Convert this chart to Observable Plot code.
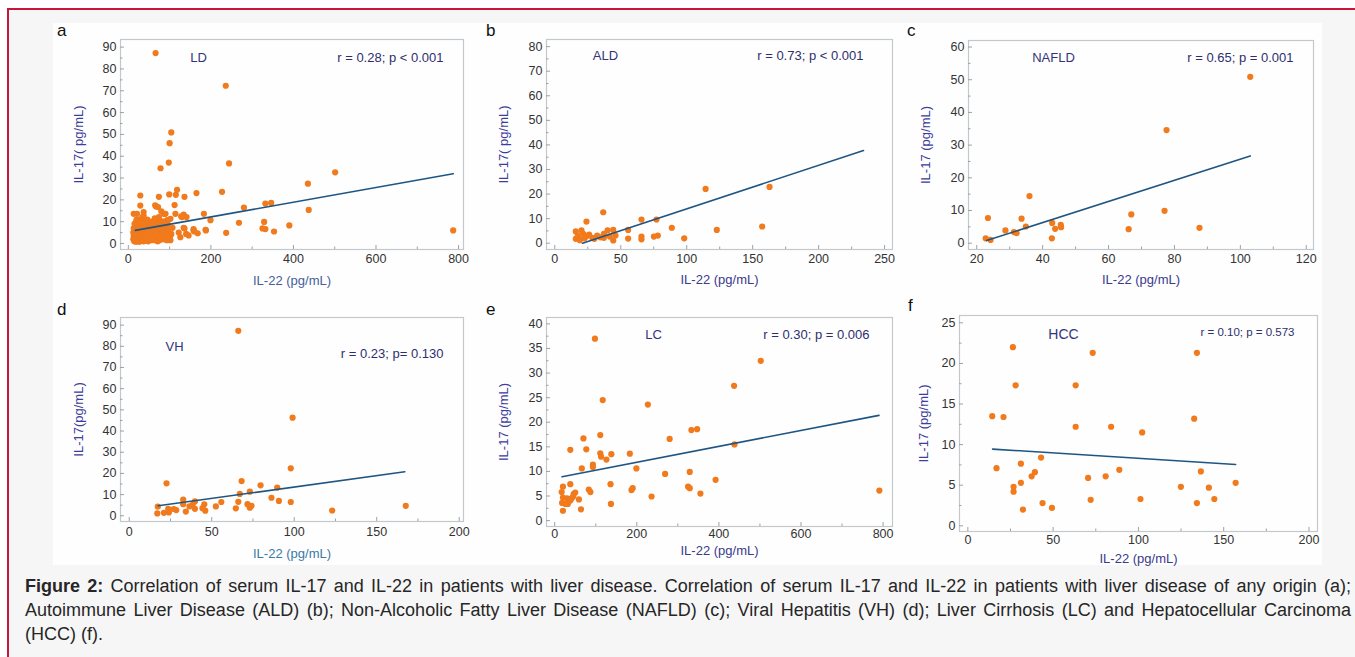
<!DOCTYPE html>
<html>
<head>
<meta charset="utf-8">
<script src="https://cdn.jsdelivr.net/npm/d3@7"></script>
<script src="https://cdn.jsdelivr.net/npm/@observablehq/plot@0.6"></script>
<style>
  html, body { margin: 0; padding: 0; background: #ffffff; }
  body { width: 1355px; height: 657px; position: relative; overflow: hidden; font-family: "Liberation Sans", Arial, sans-serif; }
  #box { position: absolute; left: 7px; top: 8px; width: 1360px; height: 660px; border-top: 2px solid #c8153a; border-left: 2px solid #c8153a; background: #f6f6f6; }
  #fig { position: absolute; left: 53px; top: 23px; width: 1269px; height: 542px; background: #fefefe; }
  .panel { position: absolute; }
  .letter { position: absolute; font-size: 17px; color: #111; font-family: "Liberation Sans", Arial, sans-serif; line-height: 1; }
  .cl { position: absolute; left: 25px; width: 1326px; font-family: "Liberation Sans", Arial, sans-serif; font-size: 18px; line-height: 24px; height: 24px; color: #262626; text-align: justify; text-align-last: justify; }
  .cl.last { text-align: left; text-align-last: left; }
</style>
</head>
<body>
<div id="box"></div>
<div id="fig"></div>
<div class="cl" style="top:574px"><b>Figure 2:</b> Correlation of serum IL-17 and IL-22 in patients with liver disease. Correlation of serum IL-17 and IL-22 in patients with liver disease of any origin (a);</div>
<div class="cl" style="top:598px">Autoimmune Liver Disease (ALD) (b); Non-Alcoholic Fatty Liver Disease (NAFLD) (c); Viral Hepatitis (VH) (d); Liver Cirrhosis (LC) and Hepatocellular Carcinoma</div>
<div class="cl last" style="top:622px">(HCC) (f).</div>
<script>
// ---------- DATA ----------
const panelLetters = ["a", "b", "c", "d", "e", "f"];
const groupNames = ["LD", "ALD", "NAFLD", "VH", "LC", "HCC"];
const statTexts = ["r = 0.28; p < 0.001", "r = 0.73; p < 0.001", "r = 0.65; p = 0.001", "r = 0.23; p= 0.130", "r = 0.30; p = 0.006", "r = 0.10; p = 0.573"];
const xTitles = ["IL-22 (pg/mL)", "IL-22 (pg/mL)", "IL-22 (pg/mL)", "IL-22 (pg/mL)", "IL-22 (pg/mL)", "IL-22 (pg/mL)"];
const yTitles = ["IL-17( pg/mL)", "IL-17( pg/mL)", "IL-17 (pg/mL)", "IL-17(pg/mL)", "IL-17 (pg/mL)", "IL-17 (pg/mL)"];

// [IL-22, IL-17]
const LD = [
  [66,87.3],[236,72.3],[104,50.9],[100,46.0],[98,37.1],[78,34.5],[244,36.7],[501,32.6],[435,27.4],[437,15.4],
  [787,6.0],[390,8.3],[353,5.5],[332,18.3],[346,18.6],[329,9.9],[325,6.9],[332,6.6],[280,16.5],[268,9.5],
  [237,4.9],[227,23.7],[165,23.1],[199,10.7],[183,13.6],[187,6.3],[188,6.0],[168,4.7],[158,6.6],[136,21.4],
  [134,13.3],[118,24.6],[115,22.3],[99,22.5],[74,21.4],[29,22.0],[112,17.6],[136,6.9],[140,4.4],[122,5.0],
  [126,2.9],[146,3.7],[102,3.7],[102,1.5],[114,13.6],[130,12.1],[158,6.0],[67,17.0],[65,17.5],[74,12.1],
  [86,13.6],[102,11.3],[94,10.7],[29,17.4],[37,14.4],[37,12.8],[21,13.6],[13,13.6],[72,16.7],[80,14.7],
  [90,13.6],[141,12.1],[128,12.4],[72,9.8],[49,6.7],[94,8.3],[86,9.8],[104,4.4],[107,7.2],[160,5.5],[134,7.2],
  [14,1.2],[15,2.5],[16,4],[16,6],[17,8],[18,1.5],[18,3],[19,5],[19,10],[20,2],[20,7],[21,1],[21,4],[22,3],
  [22,6],[23,9],[23,2],[24,5],[24,1.5],[25,3.5],[25,8],[26,2],[26,6],[27,4],[27,11],[28,1],[28,3],[29,7],
  [30,2.5],[30,5],[31,9],[32,1.5],[32,4],[33,6],[34,3],[34,12],[35,2],[35,8],[36,5],[37,1],[37,3.5],[38,7],
  [39,2.5],[40,4.5],[40,10],[41,1.5],[42,6],[43,3],[44,8],[45,2],[45,5],[46,11],[47,3.5],[48,1],[48,6.5],
  [50,4],[50,9],[52,2.5],[53,5.5],[54,7.5],[55,1.5],[56,3.5],[57,10],[58,5],[60,2],[60,7],[62,4],[63,9],
  [64,1.5],[65,5.5],[66,3],[67,8],[68,11],[70,2.5],[70,6],[72,4],[73,9.5],[75,1.5],[76,6.5],[78,3.5],[80,8],
  [82,5],[84,2],[85,10],[87,4],[88,7],[90,3],[92,5.5],[95,9],[97,2.5],
  [12,2],[12,5],[13,7],[13,3.5],[15,9],[17,0.8],[19,2.8],[20,11],[22,4.5],[24,7],[26,0.8],[28,5.5],[29,9.5],
  [31,2],[33,4.5],[36,10],[38,1.5],[39,5.5],[42,2.5],[43,7],[46,4],[49,2],[51,6],[55,8.5],[58,3],[61,5],
  [64,11.5],[69,4.5],[71,1],[74,7],[77,10.5],[81,2],[83,6],[86,3.5],[89,9],[93,1.5],[96,6],[99,4]
];
const ALD = [
  [24.0,8.8],[36.7,12.6],[114.3,22.1],[162.8,22.9],[157.2,6.8],[122.8,5.4],[98.1,2.0],[88.7,6.3],[77.1,9.6],
  [65.7,9.6],[78.1,3.1],[75.1,2.7],[65.7,2.7],[65.7,1.6],[55.6,1.9],[55.6,5.4],[44.3,5.4],[44.3,1.1],[46.0,3.1],
  [37.2,3.8],[37.2,2.2],[32.1,3.1],[28.4,2.2],[21.5,3.8],[20.2,5.2],[15.9,4.8],[15.9,1.8],[18.5,1.8],[24.0,2.8],
  [40.0,5.2],[34.6,2.4],[41.7,2.7],[17.5,3.0],[19.0,1.2],[22.5,2.0],[30.0,1.8],[26.0,3.5]
];
const NAFLD = [
  [22.7,1.5],[23.4,7.7],[24.2,1.0],[28.7,3.9],[31.3,3.4],[32.1,3.1],[33.6,7.5],[34.9,5.1],[36.0,14.4],[42.8,1.5],
  [42.9,6.2],[43.8,4.4],[45.5,5.6],[45.6,4.9],[66.1,4.3],[66.9,8.8],[77.0,9.9],[77.6,34.6],[87.6,4.7],[103.0,50.9]
];
const VH = [
  [66.1,87.3],[99.0,46.3],[97.9,22.4],[97.9,6.5],[22.6,15.3],[68.1,16.4],[79.6,14.4],[89.7,13.3],[86.2,8.5],
  [90.7,7.0],[73.1,11.4],[67.0,10.3],[66.1,6.6],[64.6,3.5],[71.7,5.5],[73.1,3.8],[74.1,4.7],[55.8,6.5],[52.5,4.4],
  [45.5,5.4],[46.1,2.4],[44.4,3.6],[39.8,6.8],[39.8,3.3],[36.5,4.4],[32.7,7.6],[32.7,5.5],[34.3,2.0],[28.5,2.7],
  [23.6,3.3],[24.0,1.6],[21.0,1.4],[17.0,1.1],[17.3,4.3],[123.0,2.5],[167.6,4.7],[38.4,5.2],[27.0,3.2]
];
const LC = [
  [98,37.0],[117,24.5],[227,23.6],[502,32.5],[437,27.4],[333,18.4],[347,18.6],[280,16.6],[438,15.5],[791,6.1],
  [392,8.3],[355,5.5],[329,9.9],[325,6.9],[329,6.6],[269,9.5],[236,4.9],[187,6.2],[183,13.6],[190,6.6],
  [199,10.6],[136,7.4],[137,3.4],[138,13.5],[111,17.4],[111,13.7],[113,13.0],[126,12.4],[93,11.4],[93,10.9],
  [70,16.7],[77,14.5],[38,14.4],[66,10.6],[38,7.4],[83,6.3],[87,5.8],[59,4.3],[64,2.3],[20,6.9],
  [17,5.8],[20,4.7],[18,3.6],[20,2.0],[30,4.5],[32,3.4],[41,4.5],[46,5.4],[50,5.7],[38,4.1],[26,3.4],[45,4.9]
];
const HCC = [
  [14.3,13.5],[16.8,7.1],[20.9,13.4],[26.4,22.0],[26.8,4.8],[26.8,4.2],[28.0,17.3],[31.1,7.65],[31.1,5.3],[32.3,2.0],
  [37.4,6.1],[39.3,6.6],[42.9,8.4],[43.8,2.8],[49.3,2.2],[63.2,17.3],[63.2,12.2],[70.5,5.9],[72.0,3.2],[73.2,21.3],
  [80.8,6.1],[84.0,12.2],[88.8,6.9],[101.2,3.3],[102.2,11.5],[124.9,4.8],[132.7,13.2],[134.3,21.3],[134.3,2.8],
  [136.6,6.7],[141.3,4.7],[144.5,3.3],[157.0,5.3]
];

// regression line end points [IL-22, IL-17]
const fitLD = [[17,6.0],[787,32.0]];
const fitALD = [[21,0.0],[234,37.7]];
const fitNAFLD = [[23,0.8],[103,26.7]];
const fitVH = [[17.6,4.7],[167,20.8]];
const fitLC = [[18,8.9],[790,21.4]];
const fitHCC = [[14.5,9.45],[157,7.55]];

// axis ticks
const xTicksLD = [0,200,400,600,800], xMinorLD = [100,300,500,700];
const yTicks90 = [0,10,20,30,40,50,60,70,80,90], yMinor90 = [5,15,25,35,45,55,65,75,85];
const xTicksALD = [0,50,100,150,200,250], xMinorALD = [25,75,125,175,225];
const yTicks80 = [0,10,20,30,40,50,60,70,80], yMinor80 = [5,15,25,35,45,55,65,75];
const xTicksNAFLD = [20,40,60,80,100,120], xMinorNAFLD = [30,50,70,90,110];
const yTicks60 = [0,10,20,30,40,50,60], yMinor60 = [5,15,25,35,45,55];
const xTicks200 = [0,50,100,150,200], xMinor200 = [25,75,125,175];
const yTicks40 = [0,5,10,15,20,25,30,35,40], yMinor40 = [2.5,7.5,12.5,17.5,22.5,27.5,32.5,37.5];
const yTicks25 = [0,5,10,15,20,25], yMinor25 = [2.5,7.5,12.5,17.5,22.5];

// ---------- LAYOUT / STYLE ----------
const layout = [
  {data: LD, fit: fitLD, frame: [120,39,463,249], xd: [-19,812], yd: [-2.75,93.5], xt: xTicksLD, xm: xMinorLD, yt: yTicks90, ym: yMinor90,
   letter: [57,22], name: [78,18], stat: [-20,18], xT: 31, tp: 5, yT: -42, xTitleColor: "#45609c", statSize: 13, nameSize: 13},
  {data: ALD, fit: fitALD, frame: [546,39,892,249], xd: [-6.3,256], yd: [-2.56,82.9], xt: xTicksALD, xm: xMinorALD, yt: yTicks80, ym: yMinor80,
   letter: [486,22], name: [59,16], stat: [-29,16], xT: 30, tp: 5, yT: -43, xTitleColor: "#3a3a8c", statSize: 13, nameSize: 13},
  {data: NAFLD, fit: fitNAFLD, frame: [968,40,1313,249], xd: [17.5,122.2], yd: [-1.93,62.0], xt: xTicksNAFLD, xm: xMinorNAFLD, yt: yTicks60, ym: yMinor60,
   letter: [907,22], name: [85,17], stat: [-20,17], xT: 30, tp: 5, yT: -43, xTitleColor: "#3a3a8c", statSize: 13, nameSize: 13},
  {data: VH, fit: fitVH, frame: [120,317,463,521], xd: [-5.3,202.6], yd: [-2.7,93.6], xt: xTicks200, xm: xMinor200, yt: yTicks90, ym: yMinor90,
   letter: [57,301], name: [54,29], stat: [-20,36], xT: 32, tp: 6, yT: -42, xTitleColor: "#3a7aa6", statSize: 13, nameSize: 13},
  {data: LC, fit: fitLC, frame: [546,317,892,526], xd: [-20,823], yd: [-1.2,41.3], xt: xTicksLD, xm: xMinorLD, yt: yTicks40, ym: yMinor40,
   letter: [486,301], name: [107,17], stat: [-23,17], xT: 24, tp: 3, yT: -43, xTitleColor: "#3a3a8c", statSize: 13, nameSize: 13},
  {data: HCC, fit: fitHCC, frame: [959,315,1317,531], xd: [-4.9,205], yd: [-0.7,25.9], xt: xTicks200, xm: xMinor200, yt: yTicks25, ym: yMinor25,
   letter: [908,297], name: [104,19], stat: [-23,17], xT: 27, tp: 4, yT: -36, xTitleColor: "#3a3a8c", statSize: 11.5, nameSize: 14}
];

const mL = 48, mR = 6, mT = 6, mB = 45;
const tickColor = "#a0a0a0";

layout.forEach((p, i) => {
  const [L, T, R, B] = p.frame;
  const fw = R - L, fh = B - T;
  const chart = Plot.plot({
    width: fw + mL + mR,
    height: fh + mT + mB,
    marginLeft: mL, marginRight: mR, marginTop: mT, marginBottom: mB,
    style: {background: "transparent", fontFamily: "'Liberation Sans', Arial, sans-serif", fontSize: "12.5px", color: "#333", overflow: "visible"},
    x: {domain: p.xd},
    y: {domain: p.yd},
    marks: [
      Plot.frame({stroke: "#c4c8cc", strokeWidth: 1.2}),
      Plot.tickX(p.xm, {x: d => d, stroke: tickColor, insetTop: fh - 2.5}),
      Plot.tickX(p.xt, {x: d => d, stroke: tickColor, insetTop: fh - 4}),
      Plot.tickY(p.ym, {y: d => d, stroke: tickColor, insetRight: fw - 2.5}),
      Plot.tickY(p.yt, {y: d => d, stroke: tickColor, insetRight: fw - 4}),
      Plot.axisX({ticks: p.xt, tickSize: 0, tickPadding: p.tp, label: null, fill: "#333"}),
      Plot.axisY({ticks: p.yt, tickSize: 0, tickPadding: 4, label: null, fill: "#333"}),
      Plot.dot(p.data, {x: d => d[0], y: d => d[1], r: 3.1, fill: "#f07a1c", stroke: "none"}),
      Plot.line(p.fit, {x: d => d[0], y: d => d[1], stroke: "#1f5582", strokeWidth: 1.6}),
      Plot.text([groupNames[i]], {text: d => d, frameAnchor: "top-left", dx: p.name[0], dy: p.name[1], textAnchor: "middle", lineAnchor: "middle", fill: "#33337a", fontSize: p.nameSize}),
      Plot.text([statTexts[i]], {text: d => d, frameAnchor: "top-right", dx: p.stat[0], dy: p.stat[1], textAnchor: "end", lineAnchor: "middle", fill: "#2e2e6e", fontSize: p.statSize}),
      Plot.text([xTitles[i]], {text: d => d, frameAnchor: "bottom", dy: p.xT, textAnchor: "middle", lineAnchor: "middle", fill: p.xTitleColor, fontSize: 13}),
      Plot.text([yTitles[i]], {text: d => d, frameAnchor: "left", dx: p.yT, rotate: -90, textAnchor: "middle", lineAnchor: "middle", fill: "#3d3d9a", fontSize: 13})
    ]
  });
  const wrap = document.createElement("div");
  wrap.className = "panel";
  wrap.style.left = (L - mL) + "px";
  wrap.style.top = (T - mT) + "px";
  wrap.appendChild(chart);
  document.body.appendChild(wrap);

  const lt = document.createElement("div");
  lt.className = "letter";
  lt.textContent = panelLetters[i];
  lt.style.left = p.letter[0] + "px";
  lt.style.top = p.letter[1] + "px";
  document.body.appendChild(lt);
});
</script>
</body>
</html>
